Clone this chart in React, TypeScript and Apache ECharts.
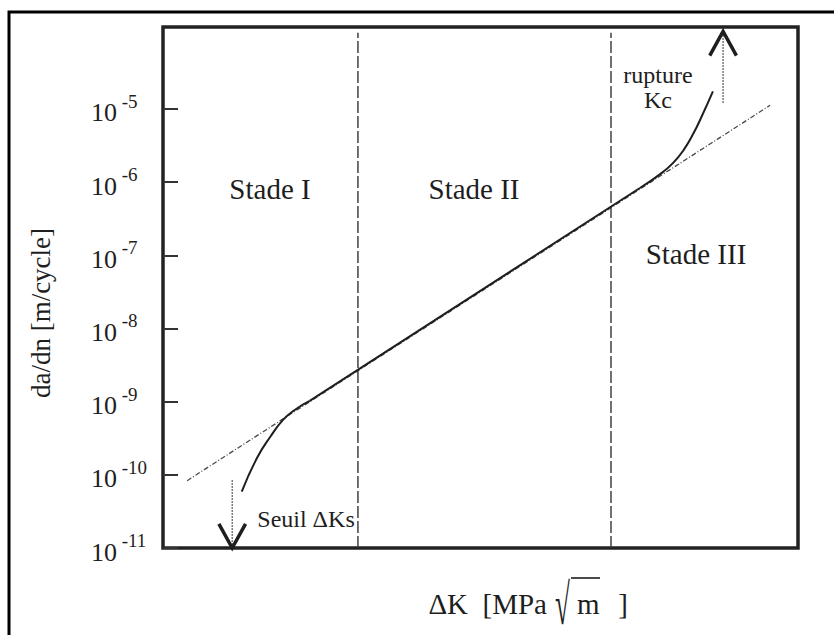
import React, { useEffect, useRef } from "react";
import * as echarts from "echarts";

// y axis: exponent of da/dn (m/cycle), ticks 10^-11 ... 10^-5
const yTickExponents = [-11, -10, -9, -8, -7, -6, -5];
const yMin = -11;
const yMax = -3.88;
// x axis: ΔK on an arbitrary (log) scale, 0..100
const xMin = 0;
const xMax = 100;

// Paris-law straight line (dash-dot)
const parisX = [3.8, 95.6];
const parisY = [-10.08, -4.95];

// Measured crack-growth curve (solid): stage I knee, stage II straight, stage III upturn
const stage1X = [12.4, 14.8, 16.9, 18.9, 20.8, 23.1];
const stage1Y = [-10.23, -9.77, -9.48, -9.25, -9.11, -8.99];
const stage2X = [23.1, 75.1];
const stage2Y = [-8.99, -6.08];
const stage3X = [75.1, 78.3, 80.3, 82.0, 83.5, 84.9, 86.6];
const stage3Y = [-6.08, -5.89, -5.74, -5.56, -5.34, -5.09, -4.76];

// Stage boundaries (vertical dashed lines)
const stageBoundX = [30.7, 70.55];
const stageBoundTop = -3.96;

// Arrows: threshold (down) and rupture (up)
const thresholdArrowX = 10.9;
const thresholdArrowY = [-10.07, -11.0];
const ruptureArrowX = 88.2;
const ruptureArrowY = [-4.92, -3.94];

const SERIF = "'Liberation Serif', 'Times New Roman', serif";
const INK = "#1e1e1e";

export default function App() {
  const ref = useRef<HTMLDivElement>(null);

  useEffect(() => {
    if (!ref.current) return;
    const chart = echarts.init(ref.current, null, { renderer: "svg" });

    const headDx = 2.1;
    const headDy = 0.33;
    const arrowHead = (x: number, tip: number, dir: number) => [
      [x - headDx, tip - dir * headDy],
      [x, tip],
      [x + headDx, tip - dir * headDy],
    ];

    const curveStyle = { color: INK, width: 2 };
    const zip = (xs: number[], ys: number[]) => xs.map((x, i) => [x, ys[i]]);

    const series: any[] = [
      {
        type: "line",
        name: "Paris",
        data: zip(parisX, parisY),
        symbol: "none",
        lineStyle: { color: "#4a4a4a", width: 1.3, type: [5, 2, 1, 2] },
        z: 2,
      },
      {
        type: "line",
        name: "Stade I",
        data: zip(stage1X, stage1Y),
        symbol: "none",
        smooth: 0.5,
        lineStyle: curveStyle,
        z: 3,
      },
      {
        type: "line",
        name: "Stade II",
        data: zip(stage2X, stage2Y),
        symbol: "none",
        lineStyle: curveStyle,
        z: 3,
      },
      {
        type: "line",
        name: "Stade III",
        data: zip(stage3X, stage3Y),
        symbol: "none",
        smooth: 0.5,
        lineStyle: curveStyle,
        z: 3,
      },
      ...stageBoundX.map((x) => ({
        type: "line",
        data: [
          [x, yMin],
          [x, stageBoundTop],
        ],
        symbol: "none",
        lineStyle: { color: "#333", width: 1.4, type: [12, 3] },
        z: 2,
      })),
      {
        type: "line",
        data: thresholdArrowY.map((y) => [thresholdArrowX, y]),
        symbol: "none",
        clip: false,
        lineStyle: { color: "#666", width: 1.3, type: [2, 1] },
      },
      {
        type: "line",
        data: arrowHead(thresholdArrowX, thresholdArrowY[1], -1),
        symbol: "none",
        clip: false,
        lineStyle: { color: INK, width: 3.5, join: "miter" },
      },
      {
        type: "line",
        data: ruptureArrowY.map((y) => [ruptureArrowX, y]),
        symbol: "none",
        clip: false,
        lineStyle: { color: "#666", width: 1.3, type: [2, 1] },
      },
      {
        type: "line",
        data: arrowHead(ruptureArrowX, ruptureArrowY[1], 1),
        symbol: "none",
        clip: false,
        lineStyle: { color: INK, width: 3.5, join: "miter" },
      },
    ];

    const txt = (
      text: string,
      x: number,
      y: number,
      size: number,
      align = "center",
      extra: any = {}
    ) => ({
      type: "text",
      x,
      y,
      style: {
        text,
        font: `${size}px ${SERIF}`,
        fill: INK,
        align,
        verticalAlign: "middle",
        textAlign: align,
        textVerticalAlign: "middle",
      },
      ...extra,
    });

    chart.setOption({
      animation: false,
      backgroundColor: "#ffffff",
      grid: {
        left: 163,
        top: 27,
        width: 635,
        height: 521,
        show: true,
        borderColor: "#222",
        borderWidth: 3.5,
        backgroundColor: "transparent",
      },
      xAxis: {
        type: "value",
        min: xMin,
        max: xMax,
        axisLine: { show: false },
        axisTick: { show: false },
        axisLabel: { show: false },
        splitLine: { show: false },
      },
      yAxis: {
        type: "value",
        min: yMin,
        max: yMax,
        axisLine: { show: false },
        splitLine: { show: false },
        axisTick: {
          show: true,
          inside: true,
          length: 15,
          customValues: yTickExponents,
          lineStyle: { color: "#333", width: 2 },
        },
        axisLabel: {
          show: true,
          customValues: yTickExponents,
          align: "left",
          margin: 72,
          formatter: (v: number) => `{b|10}{s| ${v}}`,
          rich: {
            b: { fontSize: 26, fontFamily: SERIF, color: INK, lineHeight: 34, verticalAlign: "bottom" },
            s: { fontSize: 19, fontFamily: SERIF, color: INK, lineHeight: 19, verticalAlign: "top" },
          },
        },
      },
      series,
      graphic: [
        {
          type: "rect",
          shape: { x: 9, y: 12, width: 900, height: 700 },
          style: { fill: "none", stroke: "#000", lineWidth: 3 },
          silent: true,
        },
        txt("Stade I", 270, 189, 29),
        txt("Stade II", 474, 189, 29),
        txt("Stade III", 696, 254, 29),
        txt("rupture", 658, 75, 24),
        txt("Kc", 658, 100, 24),
        txt("Seuil ΔKs", 306, 519, 24),
        txt("da/dn [m/cycle]", 41, 313, 27, "center", { rotation: Math.PI / 2 }),
        // x-axis title: ΔK [MPa √m ]
        txt("ΔK  [MPa", 547, 604, 29, "right"),
        {
          type: "text",
          x: 555,
          y: 633,
          scaleY: 1.9,
          scaleX: 0.9,
          style: {
            text: "√",
            font: `30px ${SERIF}`,
            fill: INK,
            align: "left",
            verticalAlign: "bottom",
            textAlign: "left",
            textVerticalAlign: "bottom",
          },
        },
        txt("m", 577, 604, 29, "left"),
        txt("]", 628, 604, 29, "right"),
        {
          type: "line",
          shape: { x1: 571, y1: 578, x2: 600, y2: 578 },
          style: { stroke: INK, lineWidth: 1.6 },
        },
      ],
    });

    return () => chart.dispose();
  }, []);

  return (
    <div
      ref={ref}
      style={{ position: "fixed", left: 0, top: 0, width: 834, height: 635, background: "#fff" }}
    />
  );
}
